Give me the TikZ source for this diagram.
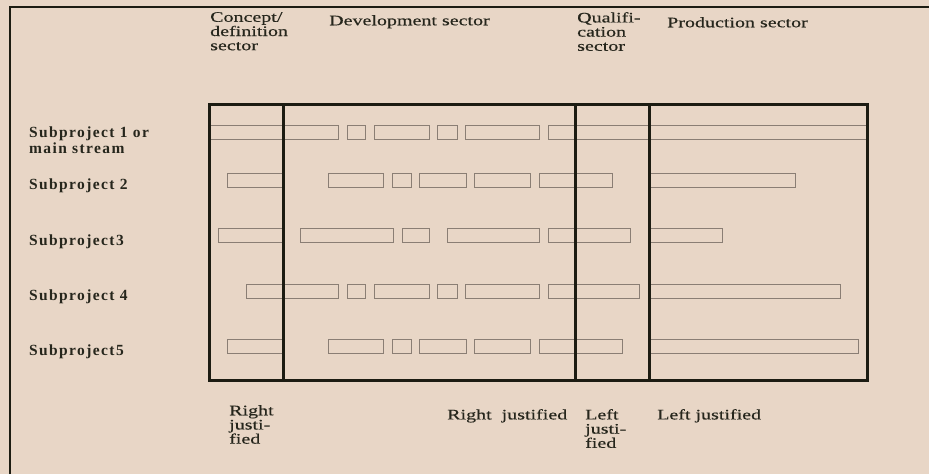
\documentclass[tikz,border=0pt]{standalone}
\usepackage{fontspec}
\setmainfont{Liberation Serif}
\newfontfamily\hdrfont{Liberation Serif}[FakeStretch=1.38,FakeBold=0.4]
\newfontfamily\lblfont{Liberation Serif}[LetterSpace=9]
\definecolor{bgcol}{HTML}{E8D6C6}
\definecolor{boxcol}{HTML}{1C1C12}
\definecolor{barcol}{HTML}{8A7E74}
\definecolor{txtcol}{HTML}{26261C}
\tikzset{
  hdr/.style={anchor=north west, align=left, inner sep=0pt, text=txtcol,
    font=\hdrfont\fontsize{14.5}{14.2}\selectfont},
  lbl/.style={anchor=west, align=left, inner sep=0pt, text=txtcol,
    font=\lblfont\bfseries\fontsize{15.5}{16}\selectfont},
  barbox/.style={draw=barcol, line width=1pt},
  thick box/.style={draw=boxcol, line width=3pt},
  frame/.style={draw=boxcol, line width=2pt}
}
\begin{document}
\begin{tikzpicture}[x=1pt,y=-1pt]
\useasboundingbox[fill=bgcol] (0,0) rectangle (929,474);
% outer frame
\draw[frame] (10,474) -- (10,7) -- (929,7);
% headers
\node[hdr] (concept) at (210,12) {Concept/\\definition\\sector};
\node[hdr] (dev) at (329,15) {Development sector};
\node[hdr] (qual) at (577,12) {Qualifi-\\cation\\sector};
\node[hdr] (prod) at (667,17) {Production sector};
% row labels
\node[lbl] (sp1) at (29,140) {Subproject 1 or\\main stream};
\node[lbl] (sp2) at (29,186) {Subproject 2};
\node[lbl] (sp3) at (29,242) {Subproject3};
\node[lbl] (sp4) at (29,297) {Subproject 4};
\node[lbl] (sp5) at (29,352) {Subproject5};
% bars
\foreach \a/\b in {210/338,347/365,374/429,437/457,465/539,548/867}
  \draw[barbox] (\a,125) rectangle (\b,139);
\foreach \a/\b in {227/283,328/383,392/411,419/466,474/530,539/612,649/795}
  \draw[barbox] (\a,173) rectangle (\b,187);
\foreach \a/\b in {218/282,300/393,402/429,447/539,548/630,649/722}
  \draw[barbox] (\a,228) rectangle (\b,242);
\foreach \a/\b in {246/338,347/365,374/429,437/457,465/539,548/639,649/840}
  \draw[barbox] (\a,284) rectangle (\b,298);
\foreach \a/\b in {227/282,328/383,392/411,419/466,474/530,539/622,649/858}
  \draw[barbox] (\a,339) rectangle (\b,353);
% main box and dividers
\draw[thick box] (209,104) rectangle (867,380);
\draw[thick box] (283,104) -- (283,380);
\draw[thick box] (575,104) -- (575,380);
\draw[thick box] (649,104) -- (649,380);
% bottom notes
\node[hdr] (rj1) at (229,405) {Right\\justi-\\fied};
\node[hdr] (rj2) at (447,409) {Right\ \ justified};
\node[hdr] (lj1) at (585,409) {Left\\justi-\\fied};
\node[hdr] (lj2) at (657,409) {Left justified};
\end{tikzpicture}
\end{document}
